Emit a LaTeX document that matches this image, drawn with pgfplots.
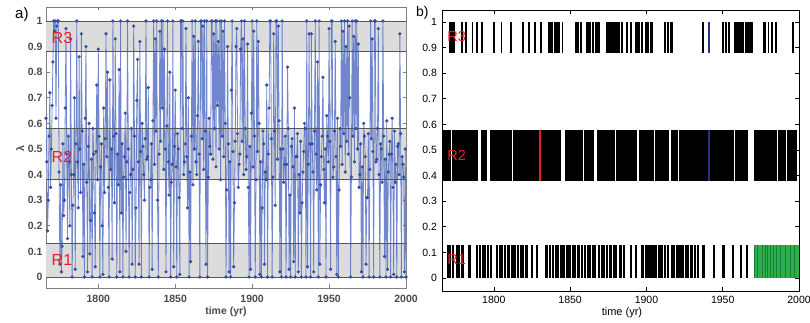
\documentclass[border=0pt]{standalone}
\usepackage{fontspec}
\setmainfont{Liberation Sans}
\usepackage{pgfplots}
\usepackage{pgfplotstable}
\pgfplotsset{compat=1.18}
\definecolor{bandgray}{HTML}{DCDCDC}
\definecolor{bandline}{HTML}{555555}
\definecolor{lineblue}{HTML}{4D68C0}
\definecolor{dotblue}{HTML}{324CA0}
\definecolor{rred}{HTML}{EE1C25}
\definecolor{bgreen}{HTML}{2DB04B}
\definecolor{dgreen}{HTML}{17803A}
\definecolor{navy}{HTML}{25318A}
\definecolor{axgray}{HTML}{808080}
\definecolor{labgray}{HTML}{4A4A4A}

\pgfplotstableread[row sep=\\]{
year lam \\
1766 0.62 \\ 1766.5 0.45 \\ 1767 0.18 \\ 1767.5 0.30 \\ 1768 0.55 \\ 1768.5 0.72 \\
1769 0.35 \\ 1769.5 0.50 \\ 1770 0.67 \\ 1770.5 0.84 \\ 1771 1.00 \\ 1771.5 0.96 \\
1772 1.00 \\ 1772.5 0.62 \\ 1773 0.98 \\ 1773.5 1.00 \\ 1774 1.00 \\ 1774.5 0.41 \\
1775 0.05 \\ 1775.5 0.36 \\ 1776 0.02 \\ 1776.5 0.12 \\ 1777 0.52 \\ 1777.5 0.24 \\
1778 0.30 \\ 1778.5 0.66 \\ 1779 0.97 \\ 1779.5 0.48 \\ 1780 0.15 \\ 1780.5 0.55 \\
1781 0.45 \\ 1781.5 0.20 \\ 1782 0.93 \\ 1782.5 0.40 \\ 1783 0.00 \\ 1783.5 0.28 \\
1784 0.40 \\ 1784.5 0.70 \\ 1785 0.03 \\ 1785.5 0.52 \\ 1786 1.00 \\ 1786.5 0.45 \\
1787 0.27 \\ 1787.5 0.86 \\ 1788 0.50 \\ 1788.5 0.33 \\ 1789 0.95 \\ 1789.5 0.57 \\
1790 0.08 \\ 1790.5 0.44 \\ 1791 0.00 \\ 1791.5 0.62 \\ 1792 0.90 \\ 1792.5 0.37 \\
1793 0.02 \\ 1793.5 0.51 \\ 1794 0.60 \\ 1794.5 0.09 \\ 1795 0.22 \\ 1795.5 0.46 \\
1796 0.00 \\ 1796.5 0.58 \\ 1797 0.48 \\ 1797.5 0.25 \\ 1798 0.04 \\ 1798.5 0.49 \\
1799 0.75 \\ 1799.5 0.38 \\ 1800 0.89 \\ 1800.5 0.55 \\ 1801 0.00 \\ 1801.5 0.43 \\
1802 0.52 \\ 1802.5 0.20 \\ 1803 0.01 \\ 1803.5 0.66 \\ 1804 0.33 \\ 1804.5 0.54 \\
1805 0.95 \\ 1805.5 0.47 \\ 1806 0.80 \\ 1806.5 0.35 \\ 1807 0.00 \\ 1807.5 0.77 \\
1808 0.42 \\ 1808.5 0.50 \\ 1809 0.07 \\ 1809.5 1.00 \\ 1810 0.55 \\ 1810.5 0.29 \\
1811 0.93 \\ 1811.5 0.56 \\ 1812 0.00 \\ 1812.5 0.48 \\ 1813 0.36 \\ 1813.5 0.81 \\
1814 0.02 \\ 1814.5 1.00 \\ 1815 0.25 \\ 1815.5 0.52 \\ 1816 0.00 \\ 1816.5 0.39 \\
1817 0.47 \\ 1817.5 0.64 \\ 1818 0.10 \\ 1818.5 0.45 \\ 1819 1.00 \\ 1819.5 0.50 \\
1820 0.00 \\ 1820.5 0.33 \\ 1821 0.40 \\ 1821.5 0.58 \\ 1822 0.05 \\ 1822.5 0.42 \\
1823 0.98 \\ 1823.5 0.55 \\ 1824 0.00 \\ 1824.5 0.27 \\ 1825 0.69 \\ 1825.5 0.85 \\
1826 0.45 \\ 1826.5 0.05 \\ 1827 0.92 \\ 1827.5 0.49 \\ 1828 0.00 \\ 1828.5 0.60 \\
1829 0.51 \\ 1829.5 0.40 \\ 1830 0.30 \\ 1830.5 0.54 \\ 1831 1.00 \\ 1831.5 0.46 \\
1832 0.47 \\ 1832.5 0.74 \\ 1833 0.00 \\ 1833.5 0.35 \\ 1834 0.38 \\ 1834.5 0.52 \\
1835 0.03 \\ 1835.5 0.61 \\ 1836 1.00 \\ 1836.5 0.44 \\ 1837 0.93 \\ 1837.5 0.57 \\
1838 1.00 \\ 1838.5 0.30 \\ 1839 0.00 \\ 1839.5 0.48 \\ 1840 0.96 \\ 1840.5 0.53 \\
1841 1.00 \\ 1841.5 0.66 \\ 1842 1.00 \\ 1842.5 0.42 \\ 1843 0.89 \\ 1843.5 0.50 \\
1844 0.02 \\ 1844.5 0.59 \\ 1845 1.00 \\ 1845.5 0.45 \\ 1846 0.32 \\ 1846.5 0.80 \\
1847 0.00 \\ 1847.5 0.37 \\ 1848 0.44 \\ 1848.5 1.00 \\ 1849 0.04 \\ 1849.5 0.51 \\
1850 0.73 \\ 1850.5 0.43 \\ 1851 0.00 \\ 1851.5 0.56 \\ 1852 0.50 \\ 1852.5 0.31 \\
1853 0.01 \\ 1853.5 1.00 \\ 1854 1.00 \\ 1854.5 0.58 \\ 1855 1.00 \\ 1855.5 0.40 \\
1856 0.45 \\ 1856.5 0.52 \\ 1857 0.97 \\ 1857.5 0.47 \\ 1858 0.27 \\ 1858.5 0.70 \\
1859 0.00 \\ 1859.5 0.41 \\ 1860 0.06 \\ 1860.5 0.55 \\ 1861 1.00 \\ 1861.5 0.36 \\
1862 0.94 \\ 1862.5 0.50 \\ 1863 1.00 \\ 1863.5 0.45 \\ 1864 0.40 \\ 1864.5 0.63 \\
1865 0.92 \\ 1865.5 0.48 \\ 1866 0.00 \\ 1866.5 1.00 \\ 1867 1.00 \\ 1867.5 0.54 \\
1868 0.98 \\ 1868.5 0.42 \\ 1869 1.00 \\ 1869.5 0.57 \\ 1870 0.05 \\ 1870.5 1.00 \\
1871 0.00 \\ 1871.5 0.39 \\ 1872 0.62 \\ 1872.5 0.51 \\ 1873 0.48 \\ 1873.5 1.00 \\
1874 1.00 \\ 1874.5 0.46 \\ 1875 0.95 \\ 1875.5 0.58 \\ 1876 1.00 \\ 1876.5 0.43 \\
1877 1.00 \\ 1877.5 0.67 \\ 1878 0.92 \\ 1878.5 0.50 \\ 1879 1.00 \\ 1879.5 0.38 \\
1880 1.00 \\ 1880.5 0.55 \\ 1881 0.96 \\ 1881.5 0.47 \\ 1882 1.00 \\ 1882.5 0.60 \\
1883 0.00 \\ 1883.5 0.34 \\ 1884 0.90 \\ 1884.5 0.52 \\ 1885 0.02 \\ 1885.5 0.45 \\
1886 0.00 \\ 1886.5 0.73 \\ 1887 1.00 \\ 1887.5 0.49 \\ 1888 0.04 \\ 1888.5 0.29 \\
1889 0.53 \\ 1889.5 0.90 \\ 1890 0.97 \\ 1890.5 0.56 \\ 1891 0.35 \\ 1891.5 0.44 \\
1892 0.48 \\ 1892.5 0.89 \\ 1893 1.00 \\ 1893.5 0.53 \\ 1894 0.93 \\ 1894.5 0.40 \\
1895 1.00 \\ 1895.5 0.58 \\ 1896 0.42 \\ 1896.5 0.47 \\ 1897 0.91 \\ 1897.5 0.35 \\
1898 0.00 \\ 1898.5 0.51 \\ 1899 0.03 \\ 1899.5 0.64 \\ 1900 1.00 \\ 1900.5 0.43 \\
1901 0.96 \\ 1901.5 0.55 \\ 1902 0.00 \\ 1902.5 0.38 \\ 1903 1.00 \\ 1903.5 0.49 \\
1904 0.92 \\ 1904.5 0.60 \\ 1905 0.01 \\ 1905.5 0.45 \\ 1906 0.00 \\ 1906.5 0.27 \\
1907 0.57 \\ 1907.5 0.52 \\ 1908 0.05 \\ 1908.5 0.41 \\ 1909 0.38 \\ 1909.5 0.75 \\
1910 0.00 \\ 1910.5 0.48 \\ 1911 0.66 \\ 1911.5 1.00 \\ 1912 1.00 \\ 1912.5 0.54 \\
1913 0.00 \\ 1913.5 0.39 \\ 1914 0.95 \\ 1914.5 0.57 \\ 1915 0.28 \\ 1915.5 1.00 \\
1916 1.00 \\ 1916.5 0.46 \\ 1917 0.98 \\ 1917.5 0.61 \\ 1918 0.02 \\ 1918.5 0.50 \\
1919 0.00 \\ 1919.5 1.00 \\ 1920 0.50 \\ 1920.5 0.37 \\ 1921 0.44 \\ 1921.5 0.55 \\
1922 0.00 \\ 1922.5 0.44 \\ 1923 0.82 \\ 1923.5 0.58 \\ 1924 0.03 \\ 1924.5 0.32 \\
1925 0.00 \\ 1925.5 0.51 \\ 1926 0.54 \\ 1926.5 0.43 \\ 1927 0.06 \\ 1927.5 0.66 \\
1928 0.00 \\ 1928.5 0.47 \\ 1929 0.47 \\ 1929.5 0.56 \\ 1930 0.02 \\ 1930.5 0.40 \\
1931 0.25 \\ 1931.5 0.53 \\ 1932 0.00 \\ 1932.5 0.29 \\ 1933 0.41 \\ 1933.5 0.49 \\
1934 0.60 \\ 1934.5 0.58 \\ 1935 0.00 \\ 1935.5 1.00 \\ 1936 0.04 \\ 1936.5 0.44 \\
1937 0.95 \\ 1937.5 0.52 \\ 1938 0.00 \\ 1938.5 0.95 \\ 1939 0.52 \\ 1939.5 0.41 \\
1940 0.02 \\ 1940.5 0.57 \\ 1941 1.00 \\ 1941.5 0.48 \\ 1942 0.34 \\ 1942.5 0.84 \\
1943 0.00 \\ 1943.5 1.00 \\ 1944 0.05 \\ 1944.5 0.36 \\ 1945 0.47 \\ 1945.5 0.55 \\
1946 0.78 \\ 1946.5 0.42 \\ 1947 0.29 \\ 1947.5 0.50 \\ 1948 0.00 \\ 1948.5 0.63 \\
1949 0.55 \\ 1949.5 0.45 \\ 1950 0.97 \\ 1950.5 0.53 \\ 1951 0.03 \\ 1951.5 1.00 \\
1952 1.00 \\ 1952.5 0.39 \\ 1953 0.43 \\ 1953.5 0.57 \\ 1954 0.92 \\ 1954.5 0.47 \\
1955 0.01 \\ 1955.5 0.62 \\ 1956 0.00 \\ 1956.5 0.34 \\ 1957 0.58 \\ 1957.5 0.51 \\
1958 1.00 \\ 1958.5 0.44 \\ 1959 0.96 \\ 1959.5 0.56 \\ 1960 1.00 \\ 1960.5 0.41 \\
1961 0.90 \\ 1961.5 0.53 \\ 1962 1.00 \\ 1962.5 0.48 \\ 1963 0.98 \\ 1963.5 0.70 \\
1964 0.00 \\ 1964.5 0.39 \\ 1965 1.00 \\ 1965.5 0.55 \\ 1966 0.94 \\ 1966.5 0.45 \\
1967 1.00 \\ 1967.5 0.58 \\ 1968 1.00 \\ 1968.5 0.50 \\ 1969 0.91 \\ 1969.5 0.35 \\
1970 0.40 \\ 1970.5 0.52 \\ 1971 0.02 \\ 1971.5 0.43 \\ 1972 0.00 \\ 1972.5 0.60 \\
1973 0.55 \\ 1973.5 0.47 \\ 1974 0.05 \\ 1974.5 0.31 \\ 1975 0.31 \\ 1975.5 0.56 \\
1976 0.00 \\ 1976.5 0.42 \\ 1977 1.00 \\ 1977.5 0.54 \\ 1978 0.93 \\ 1978.5 0.49 \\
1979 0.00 \\ 1979.5 1.00 \\ 1980 1.00 \\ 1980.5 0.45 \\ 1981 0.46 \\ 1981.5 0.58 \\
1982 0.97 \\ 1982.5 0.40 \\ 1983 0.00 \\ 1983.5 0.52 \\ 1984 0.50 \\ 1984.5 0.37 \\
1985 1.00 \\ 1985.5 0.55 \\ 1986 0.08 \\ 1986.5 0.46 \\ 1987 0.00 \\ 1987.5 0.61 \\
1988 0.03 \\ 1988.5 0.41 \\ 1989 0.48 \\ 1989.5 0.53 \\ 1990 0.00 \\ 1990.5 0.48 \\
1991 0.62 \\ 1991.5 0.35 \\ 1992 0.01 \\ 1992.5 0.57 \\ 1993 0.37 \\ 1993.5 0.44 \\
1994 0.00 \\ 1994.5 0.51 \\ 1995 0.52 \\ 1995.5 0.40 \\ 1996 0.95 \\ 1996.5 0.56 \\
1997 0.00 \\ 1997.5 0.47 \\ 1998 0.44 \\ 1998.5 0.39 \\ 1999 0.02 \\ 1999.5 0.50 \\
2000 0.00 \\
}\lamdata

\pgfplotsset{
  vbars/.style n args={3}{draw=none, mark=none, error bars/.cd, y dir=both, y fixed=#1, error mark=none,
    error bar style={line width=#2, draw=#3, solid}},
}

\begin{document}
\begin{tikzpicture}
\path[use as bounding box] (0,0) rectangle (810pt,323pt);

% ---------------- panel a ----------------
\begin{axis}[
  at={(46pt,35pt)}, anchor=south west,
  width=360pt, height=281pt, scale only axis,
  xmin=1766, xmax=2000, ymin=-0.043, ymax=1.0547,
  xtick={1800,1850,1900,1950,2000},
  ytick={0,0.1,0.2,0.3,0.4,0.5,0.6,0.7,0.8,0.9,1},
  /pgf/number format/assume math mode=true,
  /pgf/number format/1000 sep={},
  axis line style={axgray, line width=0.7pt},
  tick style={axgray, line width=0.6pt},
  major tick length=3.5pt,
  ticklabel style={font=\bfseries\fontsize{10.5}{12}\selectfont, text=labgray},
  xticklabel style={yshift=-3.5pt},
  xlabel={time (yr)},
  xlabel style={at={(axis description cs:0.5,-0.0854)}, anchor=center,
    font=\bfseries\fontsize{10.5}{12}\selectfont, text=labgray},
  ylabel={λ},
  ylabel style={at={(axis description cs:-0.072,0.495)}, anchor=center,
    font=\bfseries\fontsize{10.5}{12}\selectfont, text=labgray},
]
\addplot[fill=bandgray, draw=none] coordinates {(1760,0) (2010,0) (2010,0.13) (1760,0.13)};
\addplot[fill=bandgray, draw=none] coordinates {(1760,0.38) (2010,0.38) (2010,0.58) (1760,0.58)};
\addplot[fill=bandgray, draw=none] coordinates {(1760,0.88) (2010,0.88) (2010,1.0) (1760,1.0)};
\addplot[lineblue, line width=0.8pt, opacity=0.8, mark=*, mark size=1.25pt,
  mark options={fill=dotblue, draw=dotblue, opacity=0.9}] table[x=year, y=lam] {\lamdata};
\addplot[bandline, line width=0.6pt] coordinates {(1760,0) (2010,0)};
\addplot[bandline, line width=0.6pt] coordinates {(1760,0.13) (2010,0.13)};
\addplot[bandline, line width=0.6pt] coordinates {(1760,0.38) (2010,0.38)};
\addplot[bandline, line width=0.6pt] coordinates {(1760,0.58) (2010,0.58)};
\addplot[bandline, line width=0.6pt] coordinates {(1760,0.88) (2010,0.88)};
\addplot[bandline, line width=0.6pt] coordinates {(1760,1.0) (2010,1.0)};
\coordinate (aR3) at (axis cs:1769.6,0.935);
\coordinate (aR2) at (axis cs:1769.6,0.47);
\coordinate (aR1) at (axis cs:1769.6,0.068);
\end{axis}

% ---------------- panel b ----------------
\begin{axis}[
  at={(442pt,32pt)}, anchor=south west,
  width=357pt, height=281pt, scale only axis,
  xmin=1766, xmax=2000, ymin=-0.0508, ymax=1.0469,
  xtick={1800,1850,1900,1950,2000},
  ytick={0,0.1,0.2,0.3,0.4,0.5,0.6,0.7,0.8,0.9,1},
  /pgf/number format/assume math mode=true,
  /pgf/number format/1000 sep={},
  axis line style={black, line width=0.7pt},
  tick style={black, line width=0.6pt},
  major tick length=4pt,
  ticklabel style={font=\fontsize{10.5}{12}\selectfont, text=black},
  xticklabel style={yshift=-1.5pt},
  yticklabel style={xshift=-1.5pt},
  xlabel={time (yr)},
  xlabel style={at={(axis description cs:0.504,-0.078)}, anchor=center,
    font=\fontsize{11}{12}\selectfont},
]
% R3
\addplot[vbars={0.06}{1.9pt}{black}] coordinates {
(1771,0.94) (1772,0.94) (1773,0.94) (1774,0.94) (1779,0.94) (1782,0.94) (1786,0.94) (1789,0.94)
(1792,0.94) (1800,0.94) (1805,0.94) (1811,0.94) (1819,0.94) (1823,0.94) (1827,0.94) (1831,0.94)
(1836,0.94) (1837,0.94) (1838,0.94) (1840,0.94) (1841,0.94) (1842,0.94) (1843,0.94) (1845,0.94)
(1854,0.94) (1855,0.94) (1857,0.94) (1861,0.94) (1862,0.94) (1863,0.94) (1865,0.94) (1867,0.94)
(1868,0.94) (1869,0.94) (1874,0.94) (1875,0.94) (1876,0.94) (1877,0.94) (1878,0.94) (1879,0.94)
(1880,0.94) (1881,0.94) (1882,0.94) (1884,0.94) (1887,0.94) (1890,0.94) (1893,0.94) (1894,0.94)
(1895,0.94) (1897,0.94) (1900,0.94) (1901,0.94) (1903,0.94) (1904,0.94) (1912,0.94) (1914,0.94)
(1916,0.94) (1917,0.94) (1937,0.94) (1950,0.94) (1952,0.94) (1954,0.94) (1958,0.94) (1959,0.94)
(1960,0.94) (1961,0.94) (1962,0.94) (1963,0.94) (1965,0.94) (1966,0.94) (1967,0.94) (1968,0.94)
(1969,0.94) (1977,0.94) (1978,0.94) (1980,0.94) (1982,0.94) (1985,0.94) (1996,0.94)
};
% R2
\addplot[vbars={0.10}{2.1pt}{black}] coordinates {
(1766,0.48) (1767,0.48) (1768,0.48) (1769,0.48) (1770,0.48) (1771,0.48) (1773,0.48) (1774,0.48)
(1775,0.48) (1776,0.48) (1777,0.48) (1778,0.48) (1779,0.48) (1780,0.48) (1781,0.48) (1782,0.48)
(1783,0.48) (1784,0.48) (1786,0.48) (1787,0.48) (1788,0.48) (1789,0.48) (1792,0.48) (1793,0.48)
(1794,0.48) (1795,0.48) (1798,0.48) (1799,0.48) (1800,0.48) (1801,0.48) (1802,0.48) (1803,0.48)
(1804,0.48) (1805,0.48) (1806,0.48) (1807,0.48) (1808,0.48) (1809,0.48) (1810,0.48) (1811,0.48)
(1813,0.48) (1814,0.48) (1815,0.48) (1816,0.48) (1817,0.48) (1818,0.48) (1819,0.48) (1820,0.48)
(1821,0.48) (1822,0.48) (1823,0.48) (1824,0.48) (1825,0.48) (1826,0.48) (1827,0.48) (1828,0.48)
(1829,0.48) (1830,0.48) (1831,0.48) (1832,0.48) (1833,0.48) (1834,0.48) (1835,0.48) (1836,0.48)
(1837,0.48) (1838,0.48) (1839,0.48) (1840,0.48) (1841,0.48) (1842,0.48) (1843,0.48) (1847,0.48)
(1848,0.48) (1849,0.48) (1850,0.48) (1851,0.48) (1852,0.48) (1853,0.48) (1854,0.48) (1855,0.48)
(1856,0.48) (1857,0.48) (1858,0.48) (1860,0.48) (1861,0.48) (1862,0.48) (1863,0.48) (1864,0.48)
(1865,0.48) (1868,0.48) (1869,0.48) (1870,0.48) (1871,0.48) (1872,0.48) (1873,0.48) (1874,0.48)
(1875,0.48) (1876,0.48) (1877,0.48) (1878,0.48) (1879,0.48) (1881,0.48) (1882,0.48) (1883,0.48)
(1884,0.48) (1885,0.48) (1886,0.48) (1887,0.48) (1888,0.48) (1889,0.48) (1890,0.48) (1891,0.48)
(1892,0.48) (1893,0.48) (1896,0.48) (1897,0.48) (1898,0.48) (1899,0.48) (1900,0.48) (1901,0.48)
(1902,0.48) (1903,0.48) (1904,0.48) (1906,0.48) (1907,0.48) (1908,0.48) (1909,0.48) (1910,0.48)
(1911,0.48) (1912,0.48) (1913,0.48) (1914,0.48) (1917,0.48) (1918,0.48) (1919,0.48) (1920,0.48)
(1922,0.48) (1923,0.48) (1924,0.48) (1925,0.48) (1926,0.48) (1927,0.48) (1928,0.48) (1929,0.48)
(1930,0.48) (1931,0.48) (1932,0.48) (1933,0.48) (1934,0.48) (1935,0.48) (1936,0.48) (1937,0.48)
(1938,0.48) (1939,0.48) (1940,0.48) (1941,0.48) (1942,0.48) (1943,0.48) (1944,0.48) (1945,0.48)
(1946,0.48) (1947,0.48) (1948,0.48) (1949,0.48) (1950,0.48) (1951,0.48) (1952,0.48) (1953,0.48)
(1954,0.48) (1955,0.48) (1956,0.48) (1957,0.48) (1959,0.48) (1960,0.48) (1961,0.48) (1962,0.48)
(1963,0.48) (1964,0.48) (1965,0.48) (1966,0.48) (1971,0.48) (1972,0.48) (1973,0.48) (1974,0.48)
(1975,0.48) (1976,0.48) (1977,0.48) (1978,0.48) (1979,0.48) (1980,0.48) (1981,0.48) (1982,0.48)
(1983,0.48) (1984,0.48) (1985,0.48) (1987,0.48) (1988,0.48) (1989,0.48) (1990,0.48) (1991,0.48)
(1993,0.48) (1994,0.48) (1995,0.48) (1996,0.48) (1997,0.48) (1998,0.48)
};
% R1
\addplot[vbars={0.065}{2.1pt}{black}] coordinates {
(1770,0.065) (1771,0.065) (1773,0.065) (1776,0.065) (1777,0.065) (1779,0.065) (1780,0.065) (1784,0.065)
(1789,0.065) (1791,0.065) (1793,0.065) (1794,0.065) (1796,0.065) (1798,0.065) (1802,0.065) (1804,0.065)
(1805,0.065) (1807,0.065) (1809,0.065) (1810,0.065) (1812,0.065) (1813,0.065) (1814,0.065) (1816,0.065)
(1818,0.065) (1819,0.065) (1821,0.065) (1822,0.065) (1825,0.065) (1828,0.065) (1834,0.065) (1835,0.065)
(1837,0.065) (1839,0.065) (1841,0.065) (1842,0.065) (1844,0.065) (1845,0.065) (1846,0.065) (1848,0.065)
(1849,0.065) (1850,0.065) (1852,0.065) (1853,0.065) (1855,0.065) (1856,0.065) (1858,0.065) (1860,0.065)
(1862,0.065) (1863,0.065) (1865,0.065) (1866,0.065) (1869,0.065) (1871,0.065) (1872,0.065) (1874,0.065)
(1876,0.065) (1877,0.065) (1879,0.065) (1880,0.065) (1883,0.065) (1885,0.065) (1890,0.065) (1893,0.065)
(1897,0.065) (1898,0.065) (1900,0.065) (1901,0.065) (1902,0.065) (1904,0.065) (1905,0.065) (1906,0.065)
(1908,0.065) (1909,0.065) (1910,0.065) (1912,0.065) (1914,0.065) (1917,0.065) (1918,0.065) (1920,0.065)
(1921,0.065) (1923,0.065) (1924,0.065) (1926,0.065) (1927,0.065) (1929,0.065) (1930,0.065) (1932,0.065)
(1934,0.065) (1937,0.065) (1938,0.065) (1944,0.065) (1950,0.065) (1951,0.065) (1957,0.065) (1962,0.065)
(1966,0.065)
};
% R1 green (recent period)
\addplot[vbars={0.065}{1.9pt}{bgreen}] coordinates {
(1971,0.065) (1972,0.065) (1973,0.065) (1974,0.065) (1975,0.065) (1976,0.065) (1977,0.065) (1978,0.065)
(1979,0.065) (1980,0.065) (1981,0.065) (1982,0.065) (1983,0.065) (1984,0.065) (1985,0.065) (1986,0.065)
(1987,0.065) (1988,0.065) (1989,0.065) (1990,0.065) (1991,0.065) (1992,0.065) (1993,0.065) (1994,0.065)
(1995,0.065) (1996,0.065) (1997,0.065) (1998,0.065) (1999,0.065) (2000,0.065)
};
\addplot[vbars={0.065}{0.7pt}{dgreen}] coordinates {
(1971,0.065) (1973,0.065) (1976,0.065) (1978,0.065) (1979,0.065) (1981,0.065) (1983,0.065) (1985,0.065)
(1988,0.065) (1991,0.065) (1994,0.065) (1997,0.065)
};
% highlighted years
\addplot[vbars={0.10}{1.8pt}{rred}] coordinates {(1830,0.48) (1830.2,0.48)};
\addplot[vbars={0.10}{1.2pt}{navy}] coordinates {(1941,0.48) (1941.1,0.48)};
\addplot[vbars={0.06}{1.6pt}{navy}] coordinates {(1941,0.94) (1941.1,0.94)};
\coordinate (bR3) at (axis cs:1769.4,0.945);
\coordinate (bR2) at (axis cs:1769.4,0.48);
\coordinate (bR1) at (axis cs:1769.4,0.072);
\end{axis}

\begin{scope}[every node/.style={anchor=west, inner sep=0, text=rred}]
\node[font=\fontsize{16}{16}\selectfont] at (aR3) {R3};
\node[font=\fontsize{16}{16}\selectfont] at (aR2) {R2};
\node[font=\fontsize{16}{16}\selectfont] at (aR1) {R1};
\node[font=\fontsize{14.5}{15}\selectfont] at (bR3) {R3};
\node[font=\fontsize{14.5}{15}\selectfont] at (bR2) {R2};
\node[font=\fontsize{14.5}{15}\selectfont] at (bR1) {R1};
\end{scope}

\node[anchor=west, inner sep=0, font=\fontsize{15}{15}\selectfont] at (15pt,308pt) {a)};
\node[anchor=west, inner sep=0, font=\fontsize{14}{14}\selectfont] at (416pt,310pt) {b)};
\end{tikzpicture}
\end{document}
